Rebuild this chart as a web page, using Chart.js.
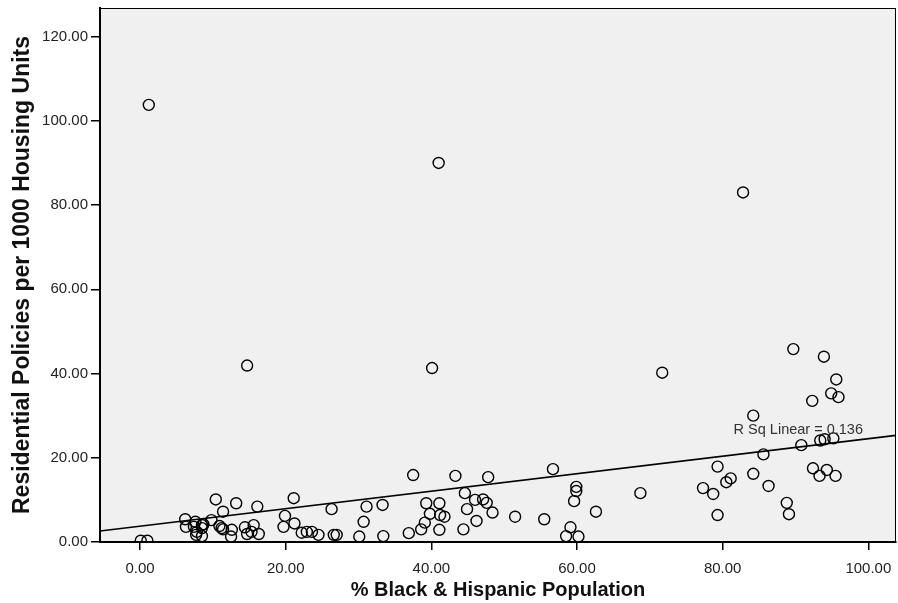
<!DOCTYPE html>
<html>
<head>
<meta charset="utf-8">
<script src="https://cdn.jsdelivr.net/npm/chart.js@4.4.1/dist/chart.umd.min.js"></script>
<style>
  html, body { margin: 0; padding: 0; background: #fff; overflow: hidden; }
  canvas { display: block; }
</style>
</head>
<body>
<canvas id="scatter" width="898" height="603"></canvas>
<script>
// % Black & Hispanic population per area
const pctMinority = [
  0.1, 1.0, 1.2, 41.0, 82.8, 14.7, 40.1, 71.7,
  6.2, 6.3, 7.6, 7.4, 8.5, 8.7, 8.5, 7.8, 7.7, 8.5, 9.8, 10.4, 11.4, 10.9, 11.2, 11.4,
  12.6, 12.5, 13.2, 14.4, 15.6, 15.3, 14.7, 16.3, 16.1, 19.9, 19.7, 21.2, 21.1,
  22.2, 22.9, 23.6, 24.5,
  26.3, 26.6, 27.0, 30.1, 30.7, 31.1, 33.3, 33.4, 36.9, 37.5, 38.6, 39.1, 39.3, 39.8,
  41.1, 41.2, 41.8, 41.1, 43.3, 44.4, 44.6, 44.9, 46.0, 46.2, 47.1, 47.6, 47.8, 48.4, 51.5,
  55.5, 56.7, 58.5, 59.1, 59.6, 59.9, 59.9, 60.2, 62.6, 68.7,
  77.3, 78.7, 79.3, 79.3, 80.5, 81.1, 84.2, 84.2, 85.6, 86.3, 88.8, 89.1, 89.7,
  90.8, 92.3, 92.4, 93.3, 93.4, 93.9, 94.0, 94.3, 94.9, 95.2, 95.5, 95.6, 95.9
];
// residential policies per 1000 housing units
const policiesPer1000 = [
  0.3, 0.3, 103.8, 90.0, 83.0, 41.9, 41.3, 40.2,
  5.4, 3.6, 4.8, 3.6, 4.0, 4.2, 3.3, 2.4, 1.7, 1.4, 5.2, 10.1, 7.2, 3.8, 3.3, 3.0,
  2.9, 1.3, 9.2, 3.5, 4.0, 2.4, 1.9, 1.9, 8.4, 6.2, 3.6, 4.4, 10.4,
  2.2, 2.4, 2.4, 1.7,
  7.8, 1.7, 1.7, 1.3, 4.8, 8.4, 8.8, 1.4, 2.1, 15.9, 3.0, 4.6, 9.2, 6.7,
  9.2, 6.4, 6.0, 2.9, 15.7, 3.0, 11.6, 7.8, 10.0, 5.0, 10.1, 9.3, 15.4, 7.0, 6.0,
  5.4, 17.3, 1.4, 3.5, 9.7, 12.1, 13.1, 1.3, 7.2, 11.6,
  12.8, 11.4, 17.9, 6.4, 14.2, 15.1, 16.2, 30.0, 20.8, 13.3, 9.3, 6.6, 45.8,
  23.0, 33.5, 17.5, 15.7, 24.1, 44.0, 24.4, 17.1, 35.3, 24.6, 15.7, 38.6, 34.4
];
const xTicks = [0, 20, 40, 60, 80, 100];
const yTicks = [0, 20, 40, 60, 80, 100, 120];
// linear fit
const fitIntercept = 3.74;
const fitSlope = 0.208;
const fitLabel = 'R Sq Linear = 0.136';

const X_MIN = -5.5, X_MAX = 103.8;
const Y_MIN = 0, Y_MAX = 126.8;
const FONT = "'Liberation Sans', Arial, sans-serif";

let points = pctMinority.map((x, i) => ({ x: x, y: policiesPer1000[i] }));
let fitLine = [X_MIN, X_MAX].map(x => ({ x: x, y: fitIntercept + fitSlope * x }));

// grey plot area with thin frame, like SPSS output
const plotFrame = {
  id: 'plotFrame',
  beforeDraw (chart) {
    let { ctx, chartArea: a } = chart;
    ctx.save();
    ctx.fillStyle = '#f0f0f0';
    ctx.fillRect(a.left, a.top, a.right - a.left, a.bottom - a.top);
    ctx.strokeStyle = '#000';
    ctx.lineWidth = 1;
    ctx.strokeRect(a.left + 0.5, a.top + 0.5, a.right - a.left - 1, a.bottom - a.top);
    ctx.restore();
  },
  afterDatasetsDraw (chart) {
    let ctx = chart.ctx,
      x = chart.scales.x.getPixelForValue(81.5),
      y = chart.scales.y.getPixelForValue(26.5);
    ctx.save();
    ctx.font = '14.5px ' + FONT;
    ctx.fillStyle = '#333';
    ctx.textBaseline = 'middle';
    ctx.fillText(fitLabel, x, y);
    ctx.restore();
  }
};

function fixedTicks (list) {
  return scale => { scale.ticks = list.map(v => ({ value: v })); };
}

// keep the plot box where it is, no extra room for the end labels
function fixedSize (prop, size) {
  return scale => {
    scale[prop] = size;
    scale.paddingTop = 0;
    scale.paddingBottom = 0;
    scale.paddingLeft = 0;
    scale.paddingRight = 0;
  };
}

let ctx = document.getElementById('scatter').getContext('2d');
let chart = new Chart(ctx, {
  type: 'scatter',
  data: {
    datasets: [{
      data: points,
      pointStyle: 'circle',
      pointRadius: 5.5,
      pointHoverRadius: 5.5,
      borderColor: '#000',
      borderWidth: 1.4,
      backgroundColor: 'rgba(0,0,0,0)'
    }, {
      type: 'line',
      data: fitLine,
      borderColor: '#000',
      borderWidth: 1.6,
      pointRadius: 0,
      fill: false
    }]
  },
  options: {
    responsive: false,
    animation: false,
    events: [],
    layout: { autoPadding: false, padding: { top: 8, right: 2, left: 0, bottom: 0 } },
    plugins: { legend: { display: false }, tooltip: { enabled: false } },
    scales: {
      x: {
        type: 'linear',
        min: X_MIN,
        max: X_MAX,
        afterBuildTicks: fixedTicks(xTicks),
        afterFit: fixedSize('height', 61),
        grid: { drawOnChartArea: false, drawTicks: true, tickLength: 8, color: '#000', lineWidth: 1.5 },
        border: { display: true, color: '#000', width: 2 },
        ticks: { padding: 10, color: '#222', font: { family: FONT, size: 15 }, callback: v => v.toFixed(2), maxRotation: 0 },
        title: { display: true, text: '% Black & Hispanic Population', color: '#111',
          font: { family: FONT, size: 20, weight: 'bold' }, padding: { top: 0, bottom: 1 } }
      },
      y: {
        type: 'linear',
        min: Y_MIN,
        max: Y_MAX,
        afterBuildTicks: fixedTicks(yTicks),
        afterFit: fixedSize('width', 100),
        grid: { drawOnChartArea: false, drawTicks: true, tickLength: 9, color: '#000', lineWidth: 1.5 },
        border: { display: true, color: '#000', width: 2 },
        ticks: { padding: 3, color: '#222', font: { family: FONT, size: 15 }, callback: v => v.toFixed(2) },
        title: { display: true, text: 'Residential Policies per 1000 Housing Units', color: '#111',
          font: { family: FONT, size: 23, weight: 'bold' }, padding: { top: 9, bottom: 0 } }
      }
    }
  },
  plugins: [plotFrame]
});
</script>
</body>
</html>
